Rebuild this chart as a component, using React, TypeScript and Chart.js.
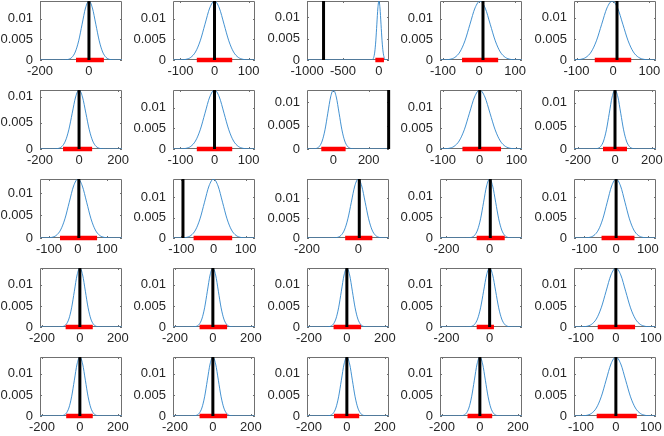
import React, { useEffect, useRef } from 'react';
import { Chart, registerables } from 'chart.js';
Chart.register(...registerables);

// Bell-shaped density profile (relative height at offsets measured in spread units)
const bellOffsets = [-4, -3.5, -3, -2.5, -2, -1.5, -1, -0.5, 0, 0.5, 1, 1.5, 2, 2.5, 3, 3.5, 4];
const bellHeights = [0.0003, 0.0022, 0.0111, 0.0439, 0.1353, 0.3247, 0.6065, 0.8825, 1, 0.8825, 0.6065, 0.3247, 0.1353, 0.0439, 0.0111, 0.0022, 0.0003];

// Per-panel values (row-major, 5x5)
const xMins = [-200, -122, -1000, -108, -107, -200, -122, -150, -108, -222, -131, -126, -200, -230, -133, -210, -210, -210, -230, -120, -210, -210, -210, -210, -120];
const xMaxs = [135, 119, 140, 119, 118, 220, 119, 315, 115, 222, 152, 129, 120, 150, 126, 222, 222, 222, 150, 115, 222, 222, 222, 222, 115];
const xTicks: number[][] = [
  [-200, 0], [-100, 0, 100], [-1000, -500, 0], [-100, 0, 100], [-100, 0, 100],
  [-200, 0, 200], [-100, 0, 100], [0, 200], [-100, 0, 100], [-200, 0, 200],
  [-100, 0, 100], [-100, 0, 100], [-200, 0], [-200, 0], [-100, 0, 100],
  [-200, 0, 200], [-200, 0, 200], [-200, 0, 200], [-200, 0], [-100, 0, 100],
  [-200, 0, 200], [-200, 0, 200], [-200, 0, 200], [-200, 0, 200], [-100, 0, 100],
];
const yTicks = [0, 0.005, 0.01];
const yTickLabels = ['0', '0.005', '0.01'];
const centers = [0, 0, 0, 3, -2, 0, 0, 0, 0, 0, 0, 0, 0, 0, 0, 0, 0, 0, 0, 0, 0, 0, 0, 0, 0];
const spreads = [28, 28, 29, 28, 29, 35, 28, 32, 28, 31, 30, 28, 27, 28, 28, 29, 29, 29, 28, 28, 29, 29, 29, 29, 28];
const peaks = [0.0143, 0.0143, 0.0138, 0.0143, 0.014, 0.0113, 0.0143, 0.0126, 0.0143, 0.0128, 0.0131, 0.0144, 0.0148, 0.0143, 0.0144, 0.014, 0.014, 0.014, 0.014, 0.014, 0.014, 0.014, 0.014, 0.014, 0.014];
const trueValues = [0, 0, -770, 11, 11, 0, 0, 313, 0, 0, 3, -95, 4, 3, 0, 0, 0, 0, 0, 0, 0, 0, 0, 0, 0];
const intervalLo = [-53, -52, -50, -47, -50, -82, -52, -69, -47, -65, -62, -62, -51, -60, -46, -75, -70, -70, -60, -52, -72, -70, -68, -65, -55];
const intervalHi = [61, 52, 70, 53, 50, 67, 52, 69, 58, 65, 66, 58, 55, 70, 58, 68, 75, 75, 20, 55, 68, 75, 65, 65, 60];

// Layout
const colLefts = [40, 173, 307, 440, 574];
const rowTops = [1, 90, 179, 268, 357];
const BOX_W = 82;
const BOX_H = 59;
const PAD_L = 46;
const PAD_R = 16;
const PAD_T = 4;
const PAD_B = 26;
const FONT = { family: '"Liberation Sans", Arial, sans-serif', size: 13 };
const TEXT_COLOR = '#262626';

const framePlugin = {
  id: 'frame',
  beforeDatasetsDraw(chart: any) {
    const { ctx, chartArea } = chart;
    const { left, right, top, bottom } = chartArea;
    ctx.save();
    ctx.strokeStyle = '#707070';
    ctx.lineWidth = 1;
    ctx.beginPath();
    ctx.rect(left + 0.5, top + 0.5, right - left - 1, bottom - top - 1);
    ctx.stroke();
    const xs = chart.scales.x;
    const ys = chart.scales.y;
    ctx.beginPath();
    xs.ticks.forEach((t: any) => {
      const px = Math.round(xs.getPixelForValue(t.value)) + 0.5;
      ctx.moveTo(px, bottom);
      ctx.lineTo(px, bottom - 2);
      ctx.moveTo(px, top);
      ctx.lineTo(px, top + 2);
    });
    ys.ticks.forEach((t: any) => {
      const py = Math.round(ys.getPixelForValue(t.value)) + 0.5;
      ctx.moveTo(left, py);
      ctx.lineTo(left + 2, py);
      ctx.moveTo(right, py);
      ctx.lineTo(right - 2, py);
    });
    ctx.stroke();
    ctx.restore();
  },
};

function Panel({ i }: { i: number }) {
  const ref = useRef<HTMLCanvasElement>(null);
  const row = Math.floor(i / 5);
  const col = i % 5;
  const w = PAD_L + BOX_W + PAD_R;
  const h = PAD_T + BOX_H + PAD_B;

  useEffect(() => {
    const canvas = ref.current;
    if (!canvas) return;
    const curve: { x: number; y: number }[] = [{ x: xMins[i], y: 0 }];
    bellOffsets.forEach((z, k) => {
      const x = centers[i] + z * spreads[i];
      if (x > xMins[i] && x < xMaxs[i]) curve.push({ x, y: peaks[i] * bellHeights[k] });
    });
    curve.push({ x: xMaxs[i], y: 0 });

    const chart = new Chart(canvas, {
      type: 'line',
      data: {
        datasets: [
          {
            data: [{ x: trueValues[i], y: 0 }, { x: trueValues[i], y: peaks[i] }],
            borderColor: '#000000',
            borderWidth: 3,
            pointRadius: 0,
            clip: 4,
          },
          {
            data: [{ x: intervalLo[i], y: 0 }, { x: intervalHi[i], y: 0 }],
            borderColor: '#ff0000',
            borderWidth: 4.5,
            pointRadius: 0,
            clip: 4,
          },
          {
            data: curve,
            borderColor: '#2f86cc',
            borderWidth: 0.9,
            pointRadius: 0,
            cubicInterpolationMode: 'monotone',
          },
        ],
      } as any,
      options: {
        animation: false,
        responsive: false,
        events: [],
        layout: { padding: { left: 0, right: PAD_R, top: PAD_T, bottom: 0 } },
        plugins: { legend: { display: false }, tooltip: { enabled: false } },
        scales: {
          x: {
            type: 'linear',
            min: xMins[i],
            max: xMaxs[i],
            grid: { display: false, drawTicks: false },
            border: { display: false },
            afterBuildTicks: (s: any) => {
              s.ticks = xTicks[i].map((v) => ({ value: v }));
            },
            afterFit: (s: any) => {
              s.height = PAD_B;
              s.paddingLeft = 0;
              s.paddingRight = 0;
            },
            ticks: {
              font: FONT,
              color: TEXT_COLOR,
              padding: 4,
              maxRotation: 0,
              autoSkip: false,
              callback: (v: any) => String(v),
            },
          },
          y: {
            type: 'linear',
            min: 0,
            max: peaks[i],
            grid: { display: false, drawTicks: false },
            border: { display: false },
            afterBuildTicks: (s: any) => {
              s.ticks = yTicks.map((v) => ({ value: v }));
            },
            afterFit: (s: any) => {
              s.width = PAD_L;
              s.paddingTop = 0;
              s.paddingBottom = 0;
            },
            ticks: {
              font: FONT,
              color: TEXT_COLOR,
              padding: 7,
              autoSkip: false,
              callback: (v: any) => {
                const k = yTicks.indexOf(v);
                return k >= 0 ? yTickLabels[k] : '';
              },
            },
          },
        },
      } as any,
      plugins: [framePlugin],
    });
    return () => chart.destroy();
  }, [i]);

  return (
    <canvas
      ref={ref}
      width={w}
      height={h}
      style={{
        position: 'absolute',
        left: colLefts[col] - PAD_L,
        top: rowTops[row] - PAD_T,
        width: w,
        height: h,
      }}
    />
  );
}

export default function App() {
  const panels = Array.from({ length: 25 }, (_, i) => i);
  return (
    <div style={{ position: 'absolute', left: 0, top: 0, width: 664, height: 436, background: '#ffffff', overflow: 'hidden' }}>
      {panels.map((i) => (
        <Panel key={i} i={i} />
      ))}
    </div>
  );
}
